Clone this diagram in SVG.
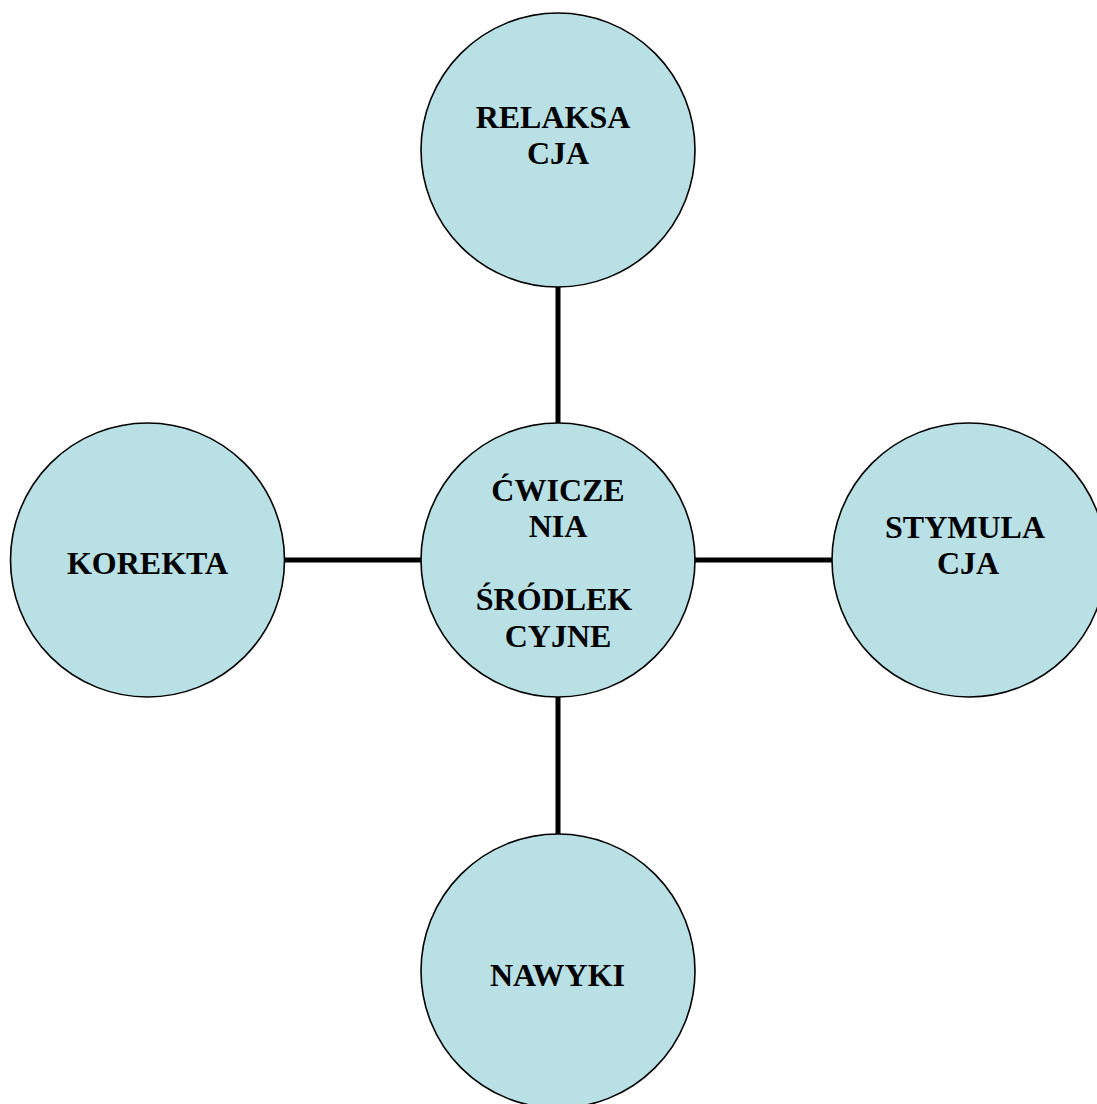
<svg xmlns="http://www.w3.org/2000/svg" width="1097" height="1104" viewBox="0 0 1097 1104">
<style>
.n{fill:#B9E0E4;stroke:#000;stroke-width:1.6}
.c{stroke:#000;stroke-width:5;fill:none}
text{font-family:"Liberation Serif","Times New Roman",serif;font-weight:bold;font-size:32px;fill:#000;text-anchor:middle}
</style>
<rect width="1097" height="1104" fill="#fff"/>
<g id="connectors">
<line class="c" x1="558" y1="287" x2="558" y2="423"/>
<line class="c" x1="285" y1="560" x2="421" y2="560"/>
<line class="c" x1="695" y1="560" x2="832" y2="560"/>
<line class="c" x1="558" y1="697" x2="558" y2="834"/>
</g>
<g id="relaksacja">
<circle class="n" cx="558" cy="150" r="137"/>
<text x="553" y="128">RELAKSA</text>
<text x="558" y="164">CJA</text>
</g>
<g id="cwiczenia">
<circle class="n" cx="558" cy="560" r="137"/>
<text x="558" y="501">ĆWICZE</text>
<text x="558" y="537">NIA</text>
<text x="554" y="610">ŚRÓDLEK</text>
<text x="558" y="647">CYJNE</text>
</g>
<g id="korekta">
<circle class="n" cx="147.5" cy="560" r="137"/>
<text x="147.5" y="574">KOREKTA</text>
</g>
<g id="stymulacja">
<circle class="n" cx="969" cy="560" r="137"/>
<text x="965" y="538">STYMULA</text>
<text x="968" y="574">CJA</text>
</g>
<g id="nawyki">
<circle class="n" cx="558" cy="971" r="137"/>
<text x="557.5" y="986">NAWYKI</text>
</g>
</svg>
